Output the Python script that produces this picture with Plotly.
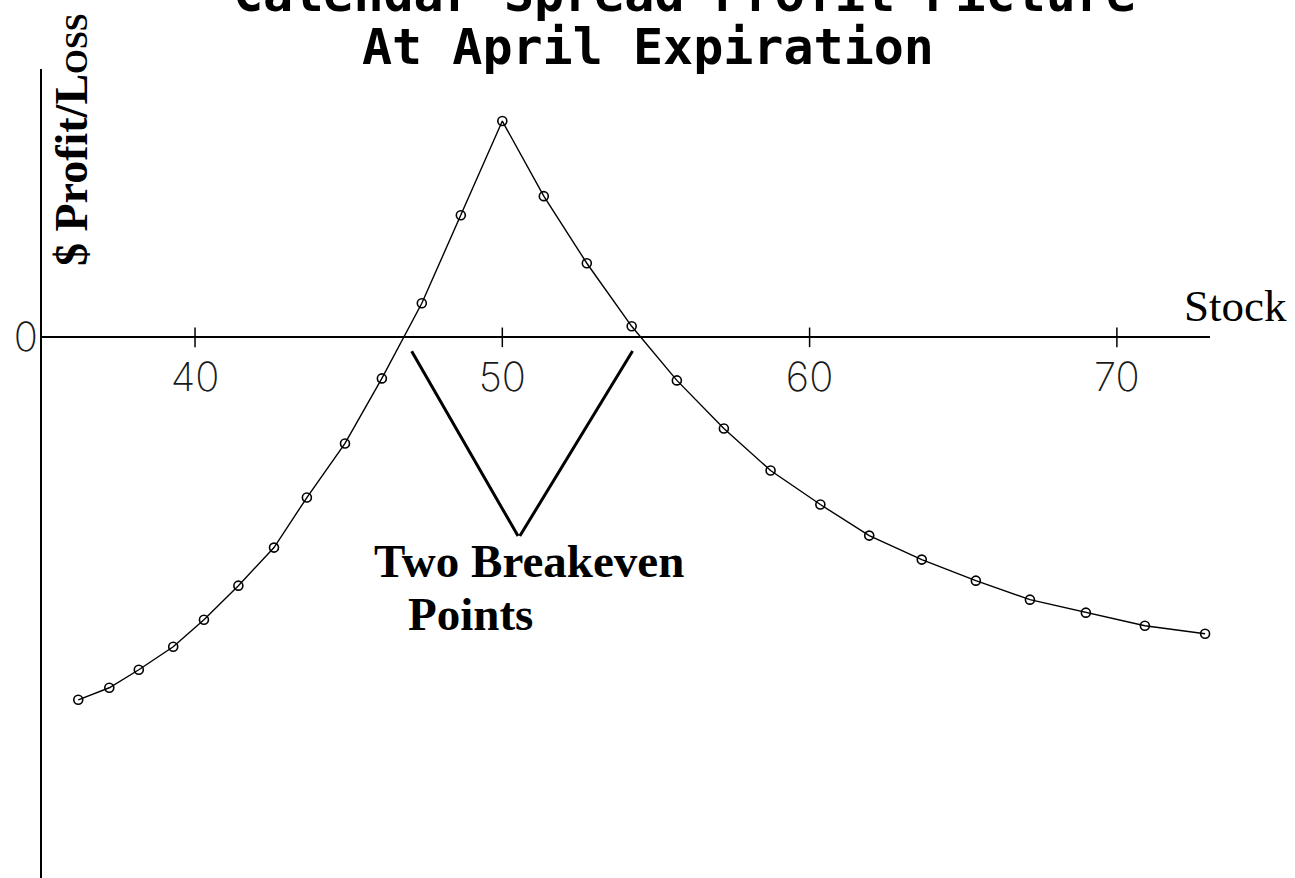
import plotly.graph_objects as go

# Calendar spread profit/loss at April expiration
stock = [36.20, 37.21, 38.17, 39.29, 40.29, 41.41, 42.57, 43.64, 44.88, 46.08,
         47.38, 48.65, 50.00, 51.35, 52.75, 54.21, 55.68, 57.21, 58.73, 60.35,
         61.94, 63.65, 65.41, 67.17, 68.99, 70.91, 72.87]
profit = [-3.62, -3.50, -3.32, -3.09, -2.82, -2.48, -2.10, -1.60, -1.06, -0.41,
          0.34, 1.22, 2.16, 1.41, 0.74, 0.11, -0.43, -0.91, -1.33, -1.67,
          -1.98, -2.22, -2.43, -2.62, -2.75, -2.88, -2.96]

tick_values = [40, 50, 60, 70]
tick_labels = ["40", "50", "60", "70"]

x_range = [35.02, 73.03]
y_range = [-5.40, 2.68]

# where the note's pointer lines meet below the axis
pointer_vertex = (50.54, -2.00)


def zero_crossings(xs, ys):
    out = []
    for i in range(len(xs) - 1):
        y0, y1 = ys[i], ys[i + 1]
        if y0 == 0:
            out.append(xs[i])
        elif y0 * y1 < 0:
            out.append(xs[i] + (xs[i + 1] - xs[i]) * (-y0) / (y1 - y0))
    return out


breakevens = zero_crossings(stock, profit)

W, H = 1295, 878
ML, MR, MT, MB = 42, 85, 69, 0
PW, PH = W - ML - MR, H - MT - MB


def fx(px):
    return (px - ML) / PW


def fy(py):
    return (H - MB - py) / PH


axis_pos = (0 - y_range[0]) / (y_range[1] - y_range[0])

tick_font = dict(family="Inter", size=40, color="#1a1a1a", weight=200)
serif = "Liberation Serif"
title_font = dict(family="DejaVu Sans Mono", size=50, color="black", weight=700)

fig = go.Figure()

# tick marks crossing the stock axis
fig.add_trace(go.Scatter(
    x=tick_values, y=[0] * len(tick_values), mode="markers",
    marker=dict(symbol="line-ns-open", size=14, color="black",
                line=dict(width=1.5, color="black")),
    hoverinfo="skip", cliponaxis=False,
))

# profit curve
fig.add_trace(go.Scatter(
    x=stock, y=profit, mode="lines+markers",
    line=dict(color="black", width=1.4),
    marker=dict(symbol="circle-open", size=9, color="black",
                line=dict(width=1.6, color="black")),
    hoverinfo="skip", cliponaxis=False,
))

annotations = [
    dict(text="Calendar Spread Profit Picture", xref="paper", yref="paper",
         x=fx(684), y=fy(-6), xanchor="center", yanchor="middle",
         showarrow=False, font=title_font),
    dict(text="At April Expiration", xref="paper", yref="paper",
         x=fx(648), y=fy(47), xanchor="center", yanchor="middle",
         showarrow=False, font=title_font),
    dict(text="$ Profit/L<span style='font-size:32px'>OSS</span>",
         xref="paper", yref="paper", x=fx(72), y=fy(140),
         xanchor="center", yanchor="middle", textangle=-90, showarrow=False,
         font=dict(family=serif, size=46, color="black", weight=700)),
    dict(text="Stock", xref="paper", yref="paper", x=fx(1182), y=fy(306),
         xanchor="left", yanchor="middle", showarrow=False,
         font=dict(family=serif, size=45, color="black")),
    dict(text="Two Breakeven", xref="paper", yref="paper", x=fx(372), y=fy(561),
         xanchor="left", yanchor="middle", showarrow=False,
         font=dict(family=serif, size=47, color="black", weight=700)),
    dict(text="Points", xref="paper", yref="paper", x=fx(406), y=fy(614),
         xanchor="left", yanchor="middle", showarrow=False,
         font=dict(family=serif, size=47, color="black", weight=700)),
]

for b in breakevens:
    annotations.append(dict(
        text="", x=b, y=0, xref="x", yref="y",
        ax=pointer_vertex[0], ay=pointer_vertex[1], axref="x", ayref="y",
        showarrow=True, arrowhead=0, arrowwidth=3, arrowcolor="black",
        standoff=16,
    ))

fig.update_layout(
    width=W, height=H,
    margin=dict(l=ML, r=MR, t=MT, b=MB, pad=0),
    paper_bgcolor="white", plot_bgcolor="white",
    showlegend=False, hovermode=False,
    xaxis=dict(
        range=x_range, anchor="free", position=axis_pos,
        showline=True, linecolor="black", linewidth=2,
        ticks="", tickvals=tick_values, ticktext=tick_labels,
        tickfont=tick_font, ticklabelstandoff=5,
        showgrid=False, zeroline=False, fixedrange=True,
    ),
    yaxis=dict(
        range=y_range, showline=True, linecolor="black", linewidth=2,
        ticks="", tickvals=[0], ticktext=["0"], tickfont=tick_font,
        ticklabelstandoff=-6,
        showgrid=False, zeroline=False, fixedrange=True,
    ),
    annotations=annotations,
)

fig.write_html("out.html", config={"displayModeBar": False})
